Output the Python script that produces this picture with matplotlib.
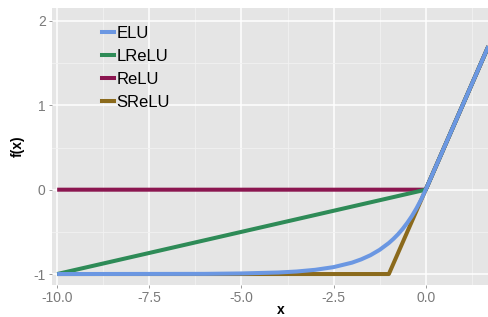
import matplotlib.pyplot as plt
from matplotlib.ticker import MultipleLocator

# ========================
# Data
# ========================
elu_x = [-10, -6, -5, -4, -3.5, -3, -2.5, -2, -1.75, -1.5, -1.25, -1, -0.875, -0.75,
         -0.625, -0.5, -0.375, -0.25, -0.125, 0, 1.7]
elu_y = [-1, -0.998, -0.993, -0.982, -0.97, -0.95, -0.918, -0.865, -0.826, -0.777,
         -0.713, -0.632, -0.583, -0.528, -0.465, -0.393, -0.313, -0.221, -0.118, 0, 1.7]

lrelu_x = [-10, 0, 1.7]
lrelu_y = [-1, 0, 1.7]

relu_x = [-10, 0, 1.7]
relu_y = [0, 0, 1.7]

srelu_x = [-10, -1, 0, 1.7]
srelu_y = [-1, -1, 0, 1.7]

series = ["ELU", "LReLU", "ReLU", "SReLU"]
colors = {"ELU": "#6b97e2", "LReLU": "#2e8b57", "ReLU": "#8b1650", "SReLU": "#8b6a1c"}

x_ticks = [-10.0, -7.5, -5.0, -2.5, 0.0]
y_ticks = [-1, 0, 1, 2]

# ========================
# Figure
# ========================
plt.rcParams['font.family'] = ['Liberation Sans Narrow', 'Liberation Sans', 'DejaVu Sans']

fig = plt.figure(figsize=(4.88, 3.17), dpi=100)
ax = fig.add_axes([52 / 488, 32 / 317, 1 - 52 / 488, 277 / 317])
ax.set_facecolor("#e5e5e5")

lw = 2.9
ax.plot(srelu_x, srelu_y, color=colors["SReLU"], lw=lw, solid_capstyle='butt', zorder=3)
ax.plot(relu_x, relu_y, color=colors["ReLU"], lw=lw, solid_capstyle='butt', zorder=4)
ax.plot(lrelu_x, lrelu_y, color=colors["LReLU"], lw=lw, solid_capstyle='butt', zorder=5)
ax.plot(elu_x, elu_y, color=colors["ELU"], lw=lw, solid_capstyle='butt', zorder=6)

ax.set_xlim(-10.14, 1.69)
ax.set_ylim(-1.13, 2.154)

ax.xaxis.set_minor_locator(MultipleLocator(1.25))
ax.yaxis.set_minor_locator(MultipleLocator(0.5))
ax.set_xticks(x_ticks)
ax.set_xticklabels([f"{v:.1f}" for v in x_ticks])
ax.set_yticks(y_ticks)
ax.set_yticklabels([str(v) for v in y_ticks])

ax.grid(which='major', color='white', lw=1.1, zorder=0)
ax.grid(which='minor', color='#f2f2f2', lw=0.6, zorder=0)
ax.set_axisbelow(True)
for s in ax.spines.values():
    s.set_visible(False)

ax.tick_params(which='major', length=2.5, width=0.6, color='#8a8a8a',
               labelcolor='#7a7a7a', labelsize=10, pad=2)
ax.tick_params(which='minor', length=0)

ax.set_xlabel("x", fontsize=10, fontweight='bold', labelpad=0)
ax.xaxis.set_label_coords(0.525, -0.066)
ax.set_ylabel("f(x)", fontsize=10, fontweight='bold', labelpad=6)

# legend (drawn inside the panel, no box)
handles = [plt.Line2D([], [], color=colors[s], lw=lw) for s in series]
leg = ax.legend(handles, series, loc='upper left', bbox_to_anchor=(0.1, 0.96),
                frameon=False, fontsize=12, handlelength=0.7, handletextpad=0.15,
                labelspacing=0.48, borderaxespad=0)

fig.savefig("out.png", dpi=100)
